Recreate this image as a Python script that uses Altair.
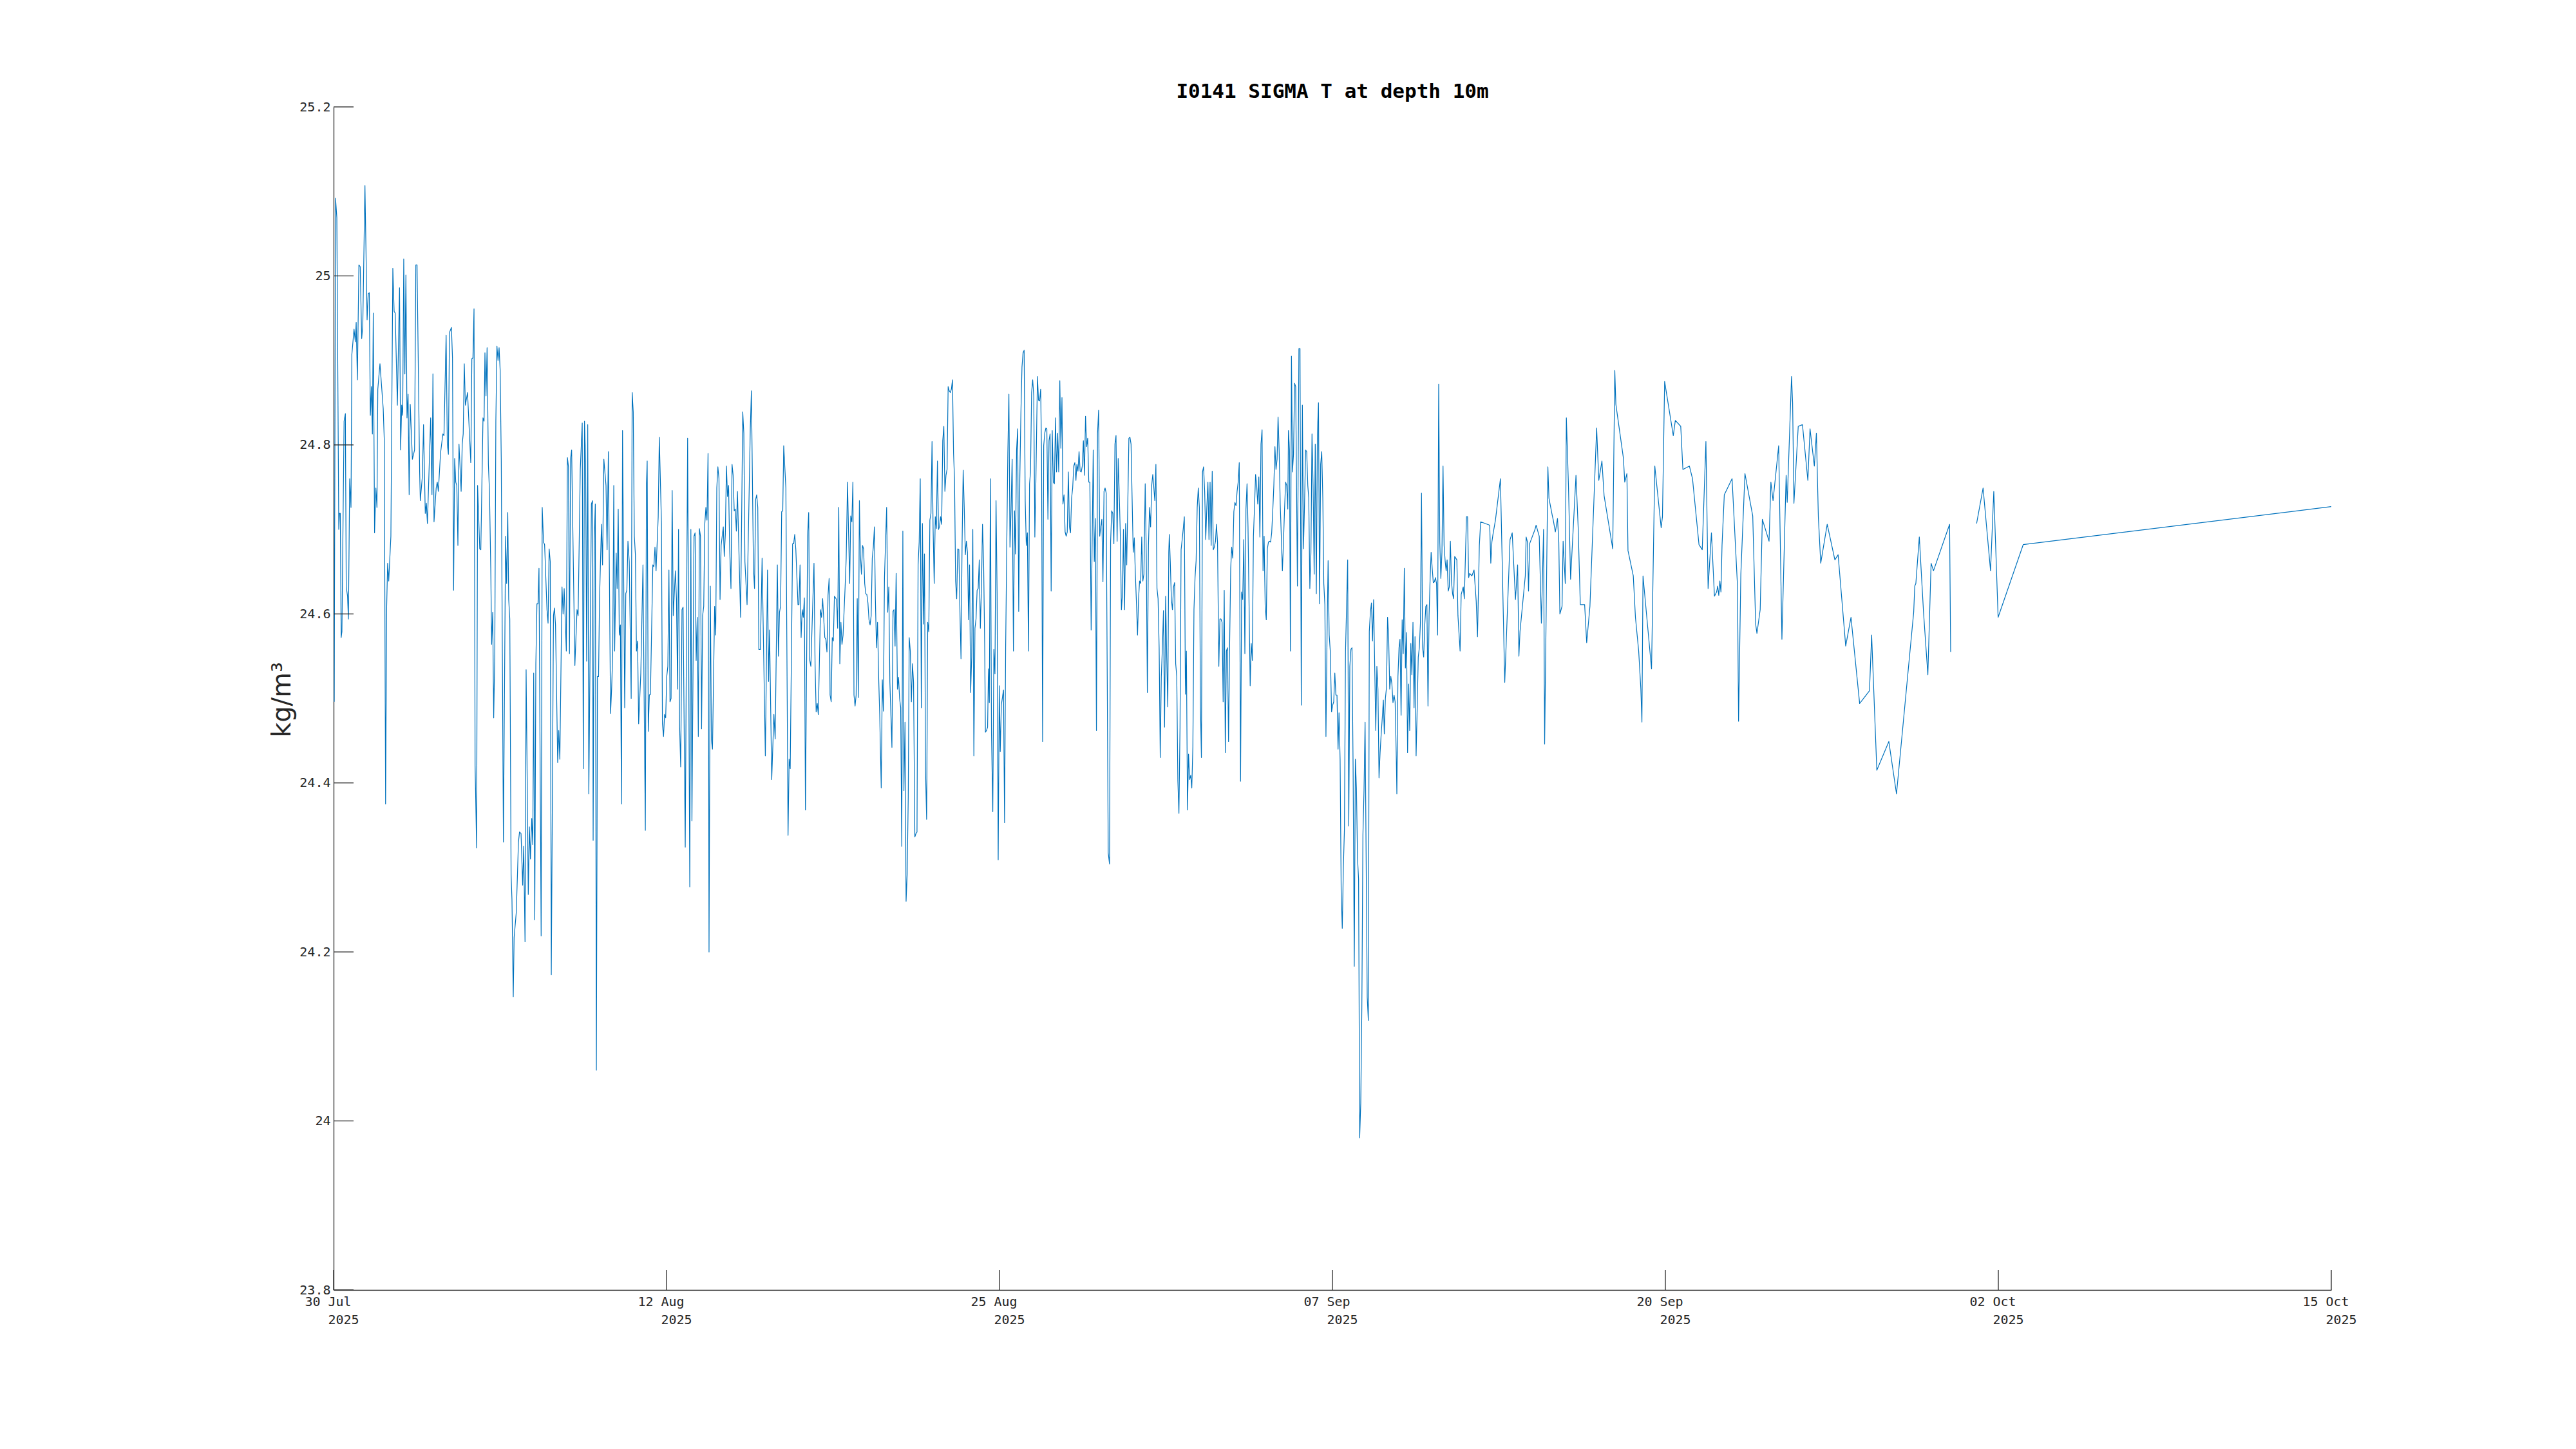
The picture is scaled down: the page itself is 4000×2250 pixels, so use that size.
import altair as alt
import pandas as pd

# time axis origin (left edge of the plot)
START = pd.Timestamp("2025-07-30T18:00:00")

# (hours since the axis origin, sigma-t in kg/m^3)
PERIOD_A = [(0.6,24.496),(1.8,25.092),(3.0,25.069),(4.8,24.700),(5.4,24.719),(6.2,24.719),(7.0,24.572),(7.7,24.579),(9.7,24.828),(10.9,24.837),(11.7,24.632),(12.9,24.621),(13.7,24.594),(14.9,24.760),(16.1,24.726),(16.9,24.907),(18.9,24.937),(20.1,24.922),(20.9,24.945),(22.0,24.877),(23.4,25.013),(24.6,25.011),(26.0,24.926),(27.0,24.941),(29.0,25.107),(31.0,24.948),(32.0,24.979),(33.0,24.980),(34.0,24.835),(35.0,24.869),(35.9,24.813),(36.7,24.956),(37.9,24.696),(39.1,24.749),(40.1,24.726),(40.9,24.866),(42.9,24.896),(45.9,24.843),(46.9,24.805),(48.1,24.375),(49.1,24.609),(50.0,24.660),(51.0,24.639),(53.0,24.692),(54.8,25.009),(56.0,24.958),(57.0,24.956),(59.0,24.847),(61.0,24.986),(62.0,24.794),(63.0,24.847),(63.9,24.835),(64.9,25.020),(65.9,24.884),(66.9,25.001),(67.9,24.832),(68.9,24.860),(69.9,24.741),(70.9,24.848),(72.9,24.783),(74.9,24.794),(76.1,25.013),(77.2,25.013),(79.6,24.768),(80.2,24.734),(82.2,24.764),(83.2,24.824),(84.8,24.719),(85.8,24.731),(86.8,24.707),(89.8,24.832),(91.0,24.741),(91.9,24.884),(92.9,24.709),(94.9,24.749),(95.9,24.756),(96.9,24.745),(98.9,24.790),(101.1,24.813),(102.1,24.811),(104.1,24.930),(105.2,24.801),(106.2,24.789),(107.2,24.933),(109.0,24.939),(110.0,24.903),(111.0,24.628),(112.0,24.784),(113.0,24.756),(114.0,24.752),(115.0,24.681),(116.0,24.801),(118.0,24.745),(119.0,24.801),(119.9,24.813),(120.9,24.896),(121.9,24.847),(123.9,24.862),(126.9,24.779),(127.9,24.902),(128.9,24.903),(129.9,24.961),(130.9,24.421),(132.3,24.323),(133.2,24.752),(135.2,24.677),(136.2,24.676),(138.2,24.832),(139.2,24.828),(140.0,24.909),(141.0,24.858),(142.0,24.915),(143.2,24.777),(144.2,24.745),(145.4,24.654),(146.2,24.564),(147.2,24.602),(148.1,24.477),(149.1,24.549),(150.1,24.828),(151.1,24.917),(152.1,24.900),(153.1,24.915),(154.1,24.888),(155.1,24.783),(157.1,24.330),(159.1,24.692),(160.1,24.636),(161.1,24.720),(162.0,24.617),(163.0,24.594),(164.2,24.292),(165.0,24.262),(166.2,24.147),(167.0,24.217),(169.0,24.247),(171.0,24.330),(172.0,24.342),(173.4,24.340),(174.9,24.279),(175.9,24.325),(177.1,24.212),(178.1,24.534),(180.1,24.268),(181.1,24.348),(182.1,24.310),(183.3,24.358),(184.3,24.327),(185.1,24.530),(186.1,24.238),(187.1,24.541),(188.1,24.612),(189.1,24.612),(190.0,24.654),(192.0,24.219),(193.0,24.726),(194.2,24.685),(195.2,24.682),(197.4,24.605),(198.4,24.589),(199.4,24.677),(200.4,24.662),(201.4,24.173),(203.4,24.598),(204.3,24.607),(205.3,24.587),(207.3,24.424),(208.3,24.462),(209.3,24.428),(211.3,24.632),(212.3,24.600),(213.3,24.630),(215.3,24.556),(216.3,24.785),(217.3,24.774),(218.2,24.553),(219.2,24.783),(220.2,24.794),(223.2,24.539),(225.2,24.605),(226.2,24.598),(228.2,24.771),(230.0,24.826),(231.0,24.417),(232.1,24.828),(233.1,24.783),(234.1,24.544),(235.1,24.824),(236.1,24.387),(238.5,24.730),(239.5,24.734),(240.1,24.332),(241.1,24.688),(242.1,24.730),(243.1,24.060),(244.1,24.526),(245.1,24.526),(246.0,24.617),(247.8,24.706),(248.8,24.658),(250.0,24.783),(252.0,24.752),(253.0,24.676),(254.2,24.792),(256.2,24.482),(257.2,24.511),(258.2,24.553),(259.2,24.752),(260.0,24.556)]

PERIOD_B = [(261.4,24.672),(262.3,24.630),(263.3,24.724),(264.3,24.575),(265.3,24.587),(266.3,24.375),(267.3,24.817),(269.3,24.489),(270.3,24.624),(271.3,24.628),(272.3,24.686),(273.5,24.662),(275.3,24.500),(276.2,24.862),(277.2,24.839),(278.2,24.692),(279.2,24.670),(280.2,24.556),(281.2,24.568),(282.2,24.470),(284.2,24.530),(286.2,24.658),(287.2,24.511),(288.4,24.344),(289.4,24.752),(290.1,24.781),(291.1,24.461),(292.1,24.504),(293.1,24.505),(295.3,24.658),(296.3,24.656),(297.3,24.679),(298.3,24.651),(300.3,24.715),(301.3,24.809),(303.3,24.707),(304.2,24.470),(305.2,24.455),(306.2,24.481),(307.2,24.477),(308.2,24.526),(309.2,24.538),(310.2,24.652),(311.2,24.496),(312.2,24.500),(313.2,24.746),(314.2,24.598),(316.2,24.651),(317.2,24.617),(318.2,24.511),(319.1,24.700),(320.1,24.466),(321.1,24.419),(322.3,24.605),(323.3,24.608),(325.3,24.324),(327.5,24.808),(329.5,24.277),(330.5,24.700),(331.5,24.355),(333.4,24.692),(334.4,24.696),(335.4,24.545),(336.4,24.596),(337.4,24.455),(338.4,24.701),(339.4,24.692),(340.4,24.464),(341.4,24.598),(342.4,24.609),(343.4,24.707),(344.4,24.726),(345.4,24.711),(346.4,24.790),(347.3,24.200),(348.5,24.633),(349.5,24.451),(350.5,24.440),(352.5,24.609),(353.5,24.575),(354.5,24.749),(355.5,24.774),(356.5,24.760),(357.5,24.617),(358.5,24.681),(360.5,24.703),(361.4,24.668),(362.4,24.694),(363.4,24.775),(364.4,24.739),(365.4,24.752),(366.4,24.677),(367.6,24.630),(368.6,24.777),(369.6,24.764),(370.6,24.722),(371.6,24.724),(372.6,24.698),(373.6,24.745),(376.5,24.596),(378.5,24.839),(379.5,24.814),(380.5,24.662),(382.5,24.611),(385.5,24.820),(386.5,24.864),(388.4,24.654),(389.4,24.630),(390.4,24.735),(391.4,24.741),(392.4,24.726),(393.4,24.558),(394.8,24.558),(396.4,24.666),(399.4,24.432),(401.4,24.652),(402.4,24.520),(403.3,24.581),(405.3,24.404),(407.3,24.481),(408.5,24.452),(410.5,24.658),(411.5,24.550),(412.5,24.602),(413.5,24.609),(414.5,24.721),(415.5,24.722),(416.4,24.799),(418.4,24.749),(420.4,24.338),(421.4,24.428),(422.4,24.417),(424.6,24.683),(425.6,24.683),(426.6,24.694),(427.6,24.676),(429.6,24.611),(430.5,24.611),(431.5,24.658),(432.5,24.572),(433.5,24.605),(434.5,24.596),(435.5,24.619),(436.5,24.368),(438.5,24.692),(439.5,24.720),(440.5,24.545),(441.5,24.538),(444.4,24.660),(445.4,24.541),(446.4,24.484),(447.4,24.494),(448.4,24.481),(450.4,24.605),(451.4,24.596),(452.4,24.618),(454.4,24.572),(455.4,24.570),(456.4,24.555),(457.4,24.622),(458.4,24.642),(459.3,24.504),(460.3,24.496),(461.3,24.572),(462.3,24.568),(463.3,24.621),(465.3,24.617),(466.3,24.583),(467.3,24.726),(468.3,24.541),(469.3,24.590),(470.3,24.564),(471.3,24.575),(473.2,24.632),(474.2,24.666),(475.4,24.756),(477.4,24.636),(478.4,24.716),(479.4,24.709),(480.4,24.756),(481.4,24.504),(482.4,24.491),(483.4,24.504),(484.4,24.618),(485.4,24.501),(486.4,24.734),(487.3,24.670),(488.3,24.647),(489.3,24.681),(490.3,24.677),(491.3,24.636),(492.3,24.624),(493.3,24.623),(494.3,24.613),(495.3,24.593),(496.3,24.587),(497.3,24.598),(498.3,24.666),(499.3,24.679),(500.3,24.703),(501.2,24.617),(502.2,24.560),(503.2,24.590),(504.2,24.526),(505.2,24.481),(506.6,24.394),(507.6,24.522),(508.6,24.485),(509.6,24.643),(511.6,24.726),(512.6,24.602),(513.6,24.632),(514.6,24.519),(516.5,24.442)]

PERIOD_C = [(517.5,24.603),(518.4,24.605),(519.4,24.562),(520.4,24.648),(521.6,24.511),(522.6,24.525),(523.6,24.500),(524.6,24.489),(525.6,24.325),(526.6,24.698),(527.6,24.391),(528.6,24.472),(529.6,24.260),(530.6,24.292),(531.6,24.383),(532.5,24.572),(533.5,24.556),(534.5,24.496),(535.5,24.541),(536.5,24.519),(537.7,24.336),(538.7,24.340),(539.7,24.342),(540.7,24.658),(541.7,24.685),(542.7,24.760),(543.7,24.489),(544.7,24.707),(545.7,24.588),(546.6,24.671),(547.6,24.413),(548.6,24.357),(549.6,24.590),(550.6,24.579),(551.6,24.711),(552.6,24.719),(553.6,24.804),(554.6,24.700),(555.6,24.636),(556.6,24.715),(557.6,24.701),(558.6,24.781),(559.6,24.700),(560.5,24.703),(561.5,24.715),(562.5,24.706),(563.5,24.805),(564.5,24.822),(565.5,24.745),(566.5,24.764),(567.5,24.771),(568.5,24.869),(569.5,24.864),(570.5,24.862),(571.5,24.866),(572.5,24.877),(573.5,24.790),(574.4,24.760),(575.4,24.639),(576.4,24.618),(577.4,24.677),(578.4,24.676),(579.4,24.605),(580.4,24.547),(581.4,24.683),(582.4,24.770),(583.4,24.726),(584.4,24.670),(585.4,24.686),(586.4,24.673),(587.4,24.593),(588.3,24.658),(589.3,24.507),(590.3,24.549),(591.3,24.700),(592.3,24.432),(593.3,24.583),(594.3,24.594),(595.3,24.628),(596.3,24.630),(597.3,24.664),(598.3,24.583),(599.3,24.630),(600.3,24.706),(601.3,24.662),(602.3,24.564),(603.0,24.460),(604.0,24.462),(605.0,24.466),(605.8,24.535),(606.6,24.495),(607.6,24.760),(608.6,24.458),(609.8,24.366),(610.8,24.558),(611.8,24.529),(612.8,24.734),(613.8,24.624),(614.8,24.309),(615.8,24.515),(616.7,24.437),(617.7,24.492),(618.7,24.501),(619.7,24.510),(620.7,24.353),(621.7,24.560),(622.7,24.677),(623.7,24.790),(624.7,24.860),(625.7,24.679),(626.7,24.724),(627.7,24.783),(628.9,24.556),(629.9,24.722),(630.8,24.671),(631.8,24.794),(632.8,24.819),(633.8,24.603),(634.8,24.760),(635.8,24.837),(636.8,24.892),(637.8,24.909),(638.8,24.912),(639.8,24.734),(640.8,24.681),(641.8,24.696),(642.8,24.556),(643.8,24.754),(644.7,24.768),(645.7,24.862),(646.7,24.877),(647.7,24.858),(648.7,24.691),(649.7,24.760),(651.1,24.881),(652.1,24.853),(653.1,24.852),(654.1,24.866),(654.9,24.790),(655.9,24.449),(656.9,24.799),(657.9,24.814),(658.9,24.820),(659.8,24.819),(660.8,24.712),(661.8,24.805),(662.8,24.813),(663.8,24.627),(664.8,24.817),(665.8,24.756),(666.8,24.754),(667.8,24.832),(668.8,24.768),(669.8,24.814),(670.8,24.768),(671.8,24.876),(672.8,24.796),(673.8,24.856),(674.7,24.730),(675.7,24.741),(676.7,24.697),(677.7,24.692),(678.7,24.697),(679.7,24.768),(680.7,24.703),(681.7,24.696),(682.7,24.737),(683.7,24.749),(684.7,24.775),(685.7,24.779),(686.7,24.758),(687.6,24.777),(688.6,24.769),(689.6,24.792),(690.6,24.769),(691.6,24.768),(692.6,24.775),(693.6,24.805),(694.6,24.764),(695.6,24.834),(696.6,24.798),(697.6,24.808),(698.6,24.756),(699.6,24.756),(700.8,24.581),(702.7,24.794),(703.7,24.662),(704.7,24.713),(705.7,24.462),(706.7,24.813),(707.7,24.841),(708.7,24.692),(709.7,24.703),(710.7,24.712),(711.7,24.638),(712.7,24.745),(713.7,24.749),(714.7,24.743),(716.6,24.317),(717.8,24.304),(718.8,24.685),(719.8,24.722),(720.8,24.719),(721.8,24.683),(722.8,24.801),(723.8,24.811),(724.8,24.686),(725.8,24.784),(726.8,24.741),(727.8,24.692),(728.8,24.605),(729.8,24.624),(730.7,24.700),(731.7,24.605),(732.7,24.707),(733.7,24.658),(734.7,24.730),(735.7,24.808),(736.7,24.809),(737.7,24.801),(738.7,24.736),(739.7,24.673),(740.7,24.690),(741.7,24.647),(742.7,24.613),(743.7,24.575),(744.6,24.617),(745.6,24.639),(746.6,24.636),(747.6,24.691),(748.6,24.639),(749.6,24.647),(750.8,24.754),(751.8,24.670),(752.8,24.507),(753.8,24.681),(754.8,24.726),(755.8,24.703),(756.8,24.752),(757.8,24.765),(758.8,24.749),(759.7,24.734),(760.7,24.777),(761.7,24.630),(762.7,24.618),(763.7,24.560),(764.7,24.430),(765.7,24.526),(766.7,24.560),(767.7,24.604),(768.7,24.466),(769.7,24.621),(770.7,24.549),(771.7,24.490),(772.6,24.673)]

PERIOD_D = [(773.1,24.694),(774.0,24.662),(775.0,24.617),(776.0,24.605),(777.0,24.632),(778.0,24.637),(779.0,24.541),(780.0,24.526),(781.0,24.402),(782.0,24.364),(783.0,24.466),(784.0,24.676),(785.0,24.688),(786.0,24.701),(787.0,24.715),(788.0,24.505),(788.9,24.556),(789.9,24.368),(790.9,24.434),(791.9,24.404),(792.9,24.409),(793.9,24.394),(794.9,24.443),(795.9,24.605),(796.9,24.643),(797.9,24.663),(798.9,24.726),(799.9,24.749),(800.9,24.726),(801.9,24.489),(802.8,24.430),(803.8,24.768),(804.8,24.774),(805.8,24.745),(806.8,24.688),(807.8,24.726),(808.8,24.756),(809.8,24.688),(810.8,24.756),(811.8,24.681),(812.8,24.769),(813.8,24.676),(814.8,24.679),(815.8,24.686),(816.7,24.706),(817.7,24.685),(818.9,24.538),(819.9,24.594),(820.9,24.594),(821.9,24.590),(822.9,24.496),(823.9,24.628),(824.9,24.436),(825.9,24.556),(826.9,24.560),(827.9,24.449),(828.9,24.564),(829.9,24.654),(830.8,24.679),(831.8,24.666),(832.8,24.721),(833.8,24.732),(834.8,24.728),(835.8,24.745),(836.8,24.756),(837.8,24.779),(839.0,24.402),(840.0,24.626),(841.0,24.617),(842.0,24.688),(843.0,24.553),(844.0,24.724),(845.0,24.754),(845.9,24.703),(846.9,24.609),(847.9,24.515),(848.9,24.565),(849.9,24.545),(850.9,24.692),(851.9,24.726),(852.9,24.765),(853.9,24.752),(854.9,24.730),(855.9,24.762),(856.9,24.691),(857.9,24.801),(858.9,24.818),(859.8,24.651),(860.8,24.692),(861.8,24.609),(862.8,24.593),(863.8,24.677),(864.8,24.685),(865.8,24.686),(866.8,24.685),(867.8,24.696),(868.8,24.722),(869.8,24.752),(870.8,24.798),(871.8,24.771),(872.8,24.783),(873.7,24.833),(874.7,24.794),(875.7,24.730),(876.7,24.692),(877.7,24.651),(878.7,24.685),(879.7,24.724),(880.7,24.756),(881.7,24.752),(882.7,24.724),(883.3,24.817),(884.3,24.794),(885.1,24.556),(886.1,24.905),(887.0,24.768),(888.0,24.789),(889.0,24.873),(890.0,24.869),(891.0,24.722),(891.6,24.633),(893.0,24.914),(894.0,24.914),(895.2,24.492),(896.2,24.847),(897.2,24.677),(898.2,24.730),(899.2,24.794),(900.2,24.792),(901.2,24.752),(902.1,24.737),(903.1,24.630),(904.1,24.673),(905.1,24.813),(906.1,24.752),(907.1,24.647),(908.1,24.801),(909.1,24.624),(910.1,24.813),(911.1,24.850),(912.1,24.612),(913.1,24.777),(914.1,24.792),(915.1,24.737),(916.0,24.636),(917.0,24.611),(918.0,24.455),(919.0,24.572),(920.0,24.663),(921.0,24.575),(922.0,24.556),(923.2,24.484),(924.2,24.492),(925.2,24.496),(926.2,24.530),(927.2,24.504),(928.2,24.504),(929.2,24.440),(930.1,24.483),(931.1,24.428),(932.1,24.270),(933.1,24.228),(934.1,24.300),(935.1,24.345),(936.1,24.556),(937.1,24.609),(938.1,24.664),(939.1,24.349),(940.1,24.538),(941.1,24.558),(942.1,24.560),(943.1,24.421),(944.2,24.183),(945.2,24.428),(946.2,24.394),(947.2,24.311),(948.2,24.286),(949.2,23.980),(950.2,24.021),(951.2,24.134),(952.2,24.338),(953.2,24.391),(954.2,24.472),(955.2,24.308),(956.2,24.146),(957.2,24.119),(958.1,24.579),(959.1,24.602),(960.1,24.613),(961.1,24.568),(962.1,24.617),(963.1,24.538),(964.1,24.462),(965.1,24.538),(966.1,24.511),(967.1,24.406),(968.1,24.436),(969.1,24.458),(970.1,24.477),(971.1,24.498),(972.0,24.458),(973.0,24.500),(974.0,24.513),(975.0,24.596),(976.0,24.572),(977.0,24.511),(978.0,24.526),(979.0,24.517),(980.0,24.495),(981.0,24.504),(982.0,24.496),(983.0,24.436),(983.6,24.387),(984.6,24.526),(985.6,24.560),(986.5,24.570),(987.5,24.480),(988.5,24.593),(989.5,24.553),(990.5,24.654),(991.5,24.536),(992.5,24.578),(993.5,24.436),(994.5,24.517),(995.5,24.462),(996.5,24.565),(997.5,24.528),(998.5,24.590),(999.5,24.489),(1000.4,24.573),(1001.4,24.432),(1002.4,24.489),(1003.4,24.549),(1004.4,24.560),(1005.4,24.590),(1006.4,24.743),(1007.4,24.560),(1008.4,24.549),(1009.4,24.587),(1010.4,24.609),(1011.4,24.611),(1012.4,24.491),(1013.4,24.598),(1014.4,24.643),(1015.3,24.673),(1016.3,24.654),(1017.3,24.637),(1018.3,24.638),(1019.3,24.643),(1020.3,24.636),(1021.3,24.575),(1022.3,24.872),(1023.3,24.685),(1024.3,24.642),(1025.3,24.673),(1026.3,24.775),(1027.3,24.681),(1028.3,24.662)]

PERIOD_E = [(1029.2,24.651),(1030.1,24.664),(1031.1,24.627),(1032.1,24.632),(1033.1,24.686),(1034.1,24.639),(1035.1,24.624),(1036.1,24.618),(1037.1,24.668),(1039.1,24.664),(1040.1,24.598),(1042.1,24.556),(1043.1,24.623),(1045.0,24.632),(1046.0,24.618),(1048.0,24.715),(1049.0,24.715),(1050.0,24.643),(1051.0,24.648),(1053.0,24.645),(1055.0,24.652),(1057.0,24.615),(1058.2,24.573),(1059.9,24.681),(1061.1,24.709),(1069.5,24.705),(1070.5,24.660),(1071.5,24.685),(1072.5,24.694),(1074.8,24.711),(1079.4,24.760),(1083.4,24.519),(1088.3,24.688),(1090.3,24.696),(1093.3,24.617),(1095.3,24.658),(1096.5,24.550),(1097.5,24.579),(1102.4,24.645),(1103.2,24.691),(1104.4,24.685),(1105.4,24.627),(1106.4,24.683),(1111.4,24.700),(1112.4,24.705),(1115.3,24.692),(1117.3,24.589),(1119.3,24.700),(1120.3,24.446),(1123.3,24.774),(1124.3,24.737),(1127.3,24.717),(1128.3,24.711),(1130.2,24.697),(1132.2,24.713),(1133.4,24.685),(1134.4,24.600),(1136.4,24.609),(1137.4,24.686),(1139.4,24.636),(1140.4,24.832),(1142.4,24.749),(1144.3,24.641),(1149.3,24.764),(1151.3,24.703),(1153.3,24.611),(1157.3,24.611),(1159.2,24.566),(1162.2,24.609),(1164.2,24.677),(1168.4,24.820),(1170.4,24.758),(1173.3,24.781),(1175.3,24.740),(1183.3,24.677),(1185.2,24.888),(1186.2,24.848),(1193.2,24.784),(1194.4,24.756),(1196.4,24.766),(1197.4,24.675),(1202.3,24.645),(1204.3,24.596),(1207.3,24.556),(1209.3,24.511),(1210.3,24.472),(1211.3,24.645),(1219.2,24.535),(1222.2,24.775),(1228.1,24.702),(1229.3,24.715),(1231.3,24.875),(1239.3,24.811),(1241.2,24.829),(1246.2,24.822),(1248.2,24.771),(1254.2,24.775),(1257.1,24.760),(1263.1,24.682),(1266.1,24.676),(1269.5,24.804),(1271.5,24.630),(1274.6,24.696),(1277.4,24.621),(1279.4,24.626),(1280.4,24.633),(1281.4,24.622),(1282.4,24.639),(1283.4,24.626),(1284.4,24.681)]

PERIOD_F = [(1286.5,24.741),(1293.7,24.760),(1298.7,24.633),(1299.7,24.473),(1301.8,24.647),(1305.6,24.766),(1312.8,24.716),(1315.5,24.588),(1316.7,24.577),(1319.7,24.605),(1321.7,24.712),(1327.9,24.686),(1329.6,24.756),(1331.6,24.734),(1336.8,24.799),(1339.8,24.570),(1343.7,24.764),(1344.7,24.732),(1348.7,24.881),(1349.7,24.850),(1350.9,24.731),(1354.9,24.822),(1358.8,24.824),(1363.8,24.758),(1365.8,24.819),(1369.8,24.775),(1371.7,24.814),(1373.5,24.715),(1375.7,24.660),(1381.7,24.706),(1388.8,24.664),(1391.8,24.670),(1398.8,24.562),(1403.7,24.596),(1411.7,24.494),(1420.8,24.509),(1422.8,24.575),(1427.6,24.415),(1438.7,24.449),(1445.8,24.387),(1461.7,24.602),(1462.7,24.633),(1463.7,24.636),(1466.9,24.691),(1470.8,24.602),(1474.8,24.528),(1477.8,24.660),(1480.0,24.651),(1494.9,24.706),(1495.9,24.555)]

# after the data gap
PERIOD_G = [(1519.9,24.707),(1525.9,24.749),(1532.8,24.651),(1535.8,24.745),(1539.8,24.596),(1563.0,24.682),(1848.0,24.727)]

SEGMENTS = [PERIOD_A + PERIOD_B + PERIOD_C + PERIOD_D + PERIOD_E + PERIOD_F, PERIOD_G]

# tick positions (evenly spaced, 12 d 20 h apart) as (year, month, day, hour)
X_TICKS = [(2025, 7, 30, 18), (2025, 8, 12, 14), (2025, 8, 25, 10), (2025, 9, 7, 6),
           (2025, 9, 20, 2), (2025, 10, 2, 22), (2025, 10, 15, 18)]
Y_TICKS = [23.8, 24.0, 24.2, 24.4, 24.6, 24.8, 25.0, 25.2]
Y_DOMAIN = [23.8, 25.2]
TITLE = "I0141 SIGMA T at depth 10m"
Y_TITLE = "kg/m³"

MONO = "DejaVu Sans Mono"
DARK = "#262626"
BLUE = "#0072BD"
W, H = 3102, 1837

rows = []
for seg_id, seg in enumerate(SEGMENTS):
    for h, v in seg:
        t = START + pd.Timedelta(hours=h)
        rows.append({"t": t.strftime("%Y-%m-%dT%H:%M:%S"), "sigma": v, "seg": seg_id})
df = pd.DataFrame(rows)

xt_df = pd.DataFrame({"t": [f"{y:04d}-{m:02d}-{d:02d}T{hh:02d}:00:00" for y, m, d, hh in X_TICKS]})
yt_df = pd.DataFrame({"v": Y_TICKS})

tick_dt = [alt.DateTime(year=y, month=m, date=d, hours=hh) for y, m, d, hh in X_TICKS]
x_scale = alt.Scale(domain=[tick_dt[0], tick_dt[-1]])
y_scale = alt.Scale(domain=Y_DOMAIN, nice=False, zero=False)

y_axis = alt.Axis(values=Y_TICKS, format=".1~f", ticks=False, tickSize=0, grid=False,
                  domain=True, domainColor=DARK, domainWidth=1.3,
                  labelFont=MONO, labelFontSize=20, labelColor=DARK, labelPadding=5,
                  labelFlush=False, labelOverlap=False,
                  title=Y_TITLE, titleFont="DejaVu Sans", titleFontSize=40,
                  titleFontWeight="normal", titleColor=DARK, titleAngle=270,
                  titleX=-68, titleY=920, titleAlign="center", titleBaseline="alphabetic")

x_axis_dates = alt.Axis(values=tick_dt, format="%d %b", ticks=False, tickSize=0, grid=False,
                        domain=True, domainColor=DARK, domainWidth=1.3,
                        labelFont=MONO, labelFontSize=20, labelColor=DARK,
                        labelPadding=24, labelBaseline="alphabetic", labelOffset=-9,
                        labelFlush=False, labelOverlap=False, title=None, orient="bottom")

x_axis_years = alt.Axis(values=tick_dt, labelExpr="timeFormat(datum.value, '%Y')",
                        ticks=False, tickSize=0, grid=False, domain=False,
                        labelFont=MONO, labelFontSize=20, labelColor=DARK,
                        labelPadding=52, labelBaseline="alphabetic", labelOffset=15,
                        labelFlush=False, labelOverlap=False, title=None, orient="bottom")

line = alt.Chart(df).mark_line(color=BLUE, strokeWidth=1.2, strokeJoin="round").encode(
    x=alt.X("t:T", scale=x_scale, axis=x_axis_dates),
    y=alt.Y("sigma:Q", scale=y_scale, axis=y_axis),
    detail="seg:N",
)

xticks = alt.Chart(xt_df).mark_rule(color=DARK, strokeWidth=1.3).encode(
    x=alt.X("t:T", scale=x_scale, axis=x_axis_years),
    y=alt.value(H),
    y2=alt.value(H - 31),
)

yticks = alt.Chart(yt_df).mark_rule(color=DARK, strokeWidth=1.3).encode(
    y=alt.Y("v:Q", scale=y_scale, axis=y_axis),
    x=alt.value(0),
    x2=alt.value(31),
)

chart = alt.layer(line, xticks, yticks).resolve_axis(x="independent").properties(
    width=W, height=H,
    title=alt.TitleParams(TITLE, font=MONO, fontSize=31, fontWeight="bold", color="#000000",
                          anchor="middle", baseline="alphabetic", offset=6, dy=33),
    padding={"left": 510, "top": 158, "right": 360, "bottom": 220},
    autosize=alt.AutoSizeParams(type="none"),
).configure(background="white").configure_view(stroke=None, strokeWidth=0)

chart.save("out.html", embed_options={"renderer": "svg", "actions": False})
